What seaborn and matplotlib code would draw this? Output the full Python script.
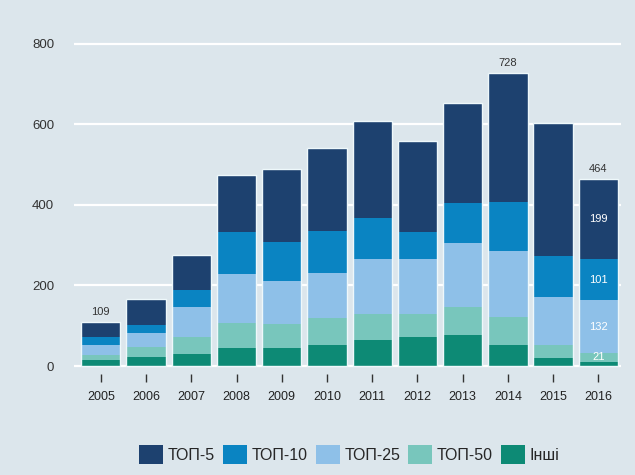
import numpy as np
import pandas as pd
import matplotlib
matplotlib.use("Agg")
import matplotlib.pyplot as plt
from matplotlib.patches import Patch
import seaborn as sns

years = ["2005", "2006", "2007", "2008", "2009", "2010",
         "2011", "2012", "2013", "2014", "2015", "2016"]
top5 = [37, 66, 87, 141, 181, 206, 239, 226, 248, 321, 329, 199]
top10 = [20, 19, 41, 103, 95, 102, 103, 67, 99, 122, 102, 101]
top25 = [25, 34, 75, 123, 107, 114, 135, 135, 158, 163, 119, 132]
top50 = [12, 26, 41, 61, 60, 66, 66, 58, 70, 70, 33, 21]
others = [15, 22, 31, 45, 45, 52, 64, 72, 77, 52, 19, 11]

series_names = ["ТОП-5", "ТОП-10", "ТОП-25", "ТОП-50", "Інші"]
series_colors = ["#1d416f", "#0a84c2", "#8ec0e8", "#78c6bc", "#0d8a75"]
total_labels = {"2005": 109, "2014": 728, "2016": 464}
label_year = "2016"

bg = "#dce6ec"
sns.set_theme(style="white")
plt.rcParams["font.family"] = ["Liberation Sans", "DejaVu Sans"]

df = pd.DataFrame({"year": years, "ТОП-5": top5, "ТОП-10": top10,
                   "ТОП-25": top25, "ТОП-50": top50, "Інші": others})

fig = plt.figure(figsize=(6.35, 4.75), dpi=100, facecolor=bg)
ax = fig.add_axes([0.116, 0.2124, 0.862, 0.7044])
ax.set_facecolor(bg)

# stacked bars: draw cumulative heights from the top segment down
stack_order = ["Інші", "ТОП-50", "ТОП-25", "ТОП-10", "ТОП-5"]
cum = df[stack_order].cumsum(axis=1)
width = 0.87
for name in reversed(stack_order):
    color = series_colors[series_names.index(name)]
    sns.barplot(x=df["year"], y=cum[name], color=color, width=width,
                linewidth=0, saturation=1, ax=ax, zorder=3)

# light outline around each full column
totals = cum["ТОП-5"]
sns.barplot(x=df["year"], y=totals, width=width, fill=False,
            edgecolor="#eef8fb", linewidth=1.0, ax=ax, zorder=4)

# totals above selected columns
for yr, val in total_labels.items():
    i = years.index(yr)
    ax.text(i, val + 12, str(val), ha="center", va="bottom",
            fontsize=8, color="#333333", zorder=5)

# segment values inside the last column
i = years.index(label_year)
bottoms = 0
for name in stack_order:
    v = df[name].iloc[i]
    if name != "Інші":
        ax.text(i, bottoms + v / 2, str(v), ha="center", va="center",
                fontsize=8, color="white", zorder=5)
    bottoms += v

ax.set_ylim(-20, 810)
ax.set_xlim(-0.6, 11.5)
ax.set_yticks([0, 200, 400, 600, 800])
ax.yaxis.grid(True, color="white", linewidth=1.6, zorder=0)
ax.set_axisbelow(True)
for s in ax.spines.values():
    s.set_visible(False)
ax.set_xlabel("")
ax.set_ylabel("")
ax.tick_params(axis="y", length=0, pad=14, labelsize=9.5, labelcolor="#333333")
ax.tick_params(axis="x", bottom=True, length=6, width=1, color="#333333",
               direction="out", pad=6, labelsize=9, labelcolor="#222222")

handles = [Patch(facecolor=c, edgecolor="none") for c in series_colors]
fig.legend(handles, series_names, loc="center", bbox_to_anchor=(0.55, 0.043),
           ncol=5, frameon=False, fontsize=11.5, handlelength=1.5,
           handleheight=1.5, handletextpad=0.3, columnspacing=0.5)

fig.savefig("out.png", dpi=100, facecolor=bg)
